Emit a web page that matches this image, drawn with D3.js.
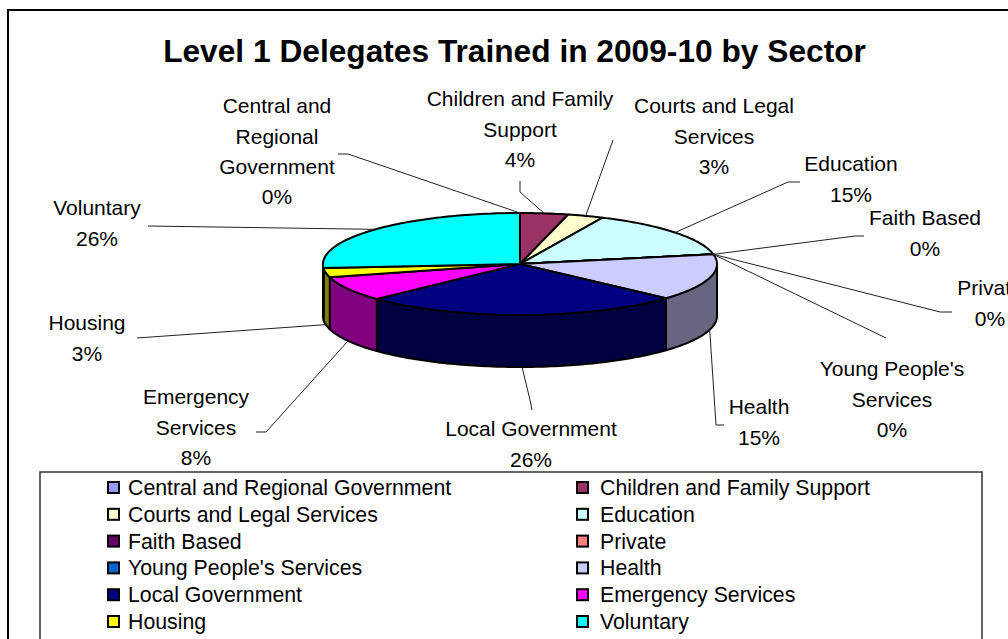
<!DOCTYPE html>
<html><head><meta charset="utf-8">
<script src="https://cdn.jsdelivr.net/npm/d3@7"></script>
<style>html,body{margin:0;padding:0;background:#fff;overflow:hidden}</style>
</head><body>
<svg id="chart" width="1008" height="639"></svg>
<script>
const title = "Level 1 Delegates Trained in 2009-10 by Sector";
const categories = ["Central and Regional Government","Children and Family Support","Courts and Legal Services","Education","Faith Based","Private","Young People's Services","Health","Local Government","Emergency Services","Housing","Voluntary"];
const values = [0, 12, 9, 46, 0, 0, 0, 45, 80, 24, 9, 80];
const colors = ["#9999FF","#993366","#FFFFCC","#CCFFFF","#660066","#FF8080","#0066CC","#CCCCFF","#000080","#FF00FF","#FFFF00","#00FFFF"];
const labelLines = [["Central and","Regional","Government"],["Children and Family","Support"],["Courts and Legal","Services"],["Education"],["Faith Based"],["Private"],["Young People's","Services"],["Health"],["Local Government"],["Emergency","Services"],["Housing"],["Voluntary"]];

// layout (positions of data labels and leader-line elbows)
const labelPos = [[277,106],[520,99],[714,106],[851,164],[925,218],[990,288],[892,369],[759,407],[531,429],[196,397],[87,323],[97,208]];
const leaderStart = [[[338,154],[348,154]],[[520,181],[520,192]],[[613,140]],[[800,182],[788,182]],[[864,236],[855,236]],[[952,312],[940,312]],[[886,338]],[[724,425],[716,425]],[[532,410],[530,400]],[[256,432],[266,432]],[[137,338]],[[148,226]]];

const svg = d3.select("#chart");
const font = "'Liberation Sans', Arial, sans-serif";

// outer border
svg.append("rect").attr("x",8).attr("y",10).attr("width",1010).attr("height",640)
  .attr("fill","none").attr("stroke","#000").attr("stroke-width",2);

svg.append("text").attr("x",514.5).attr("y",62).attr("text-anchor","middle")
  .attr("font-family",font).attr("font-weight","bold").attr("font-size",31.7).text(title);

// 3D pie
const cx = 520, cy = 264, rx = 197, ry = 51, depth = 52;
const px = t => cx + rx*Math.sin(t);
const py = (t,z) => cy - ry*Math.cos(t) + (z||0);
const pie = d3.pie().sort(null).value(d=>d).startAngle(0).endAngle(2*Math.PI);
const arcs = pie(values);
const total = d3.sum(values);
const fmt = v => Math.round(100*v/total) + "%";

function arcPts(a0,a1,z){
  const n = Math.max(2, Math.ceil(Math.abs(a1-a0)/0.02));
  return d3.range(n+1).map(i=>{const t=a0+(a1-a0)*i/n; return [px(t),py(t,z)];});
}
const line = d3.line();
const dark = c => {const k=d3.rgb(c); return d3.rgb(k.r*0.5,k.g*0.5,k.b*0.5).toString();};

// side walls (visible front half: angles PI/2..3PI/2)
const sideG = svg.append("g");
arcs.forEach((a,i)=>{
  const s = Math.max(a.startAngle, Math.PI/2), e = Math.min(a.endAngle, 3*Math.PI/2);
  if (e - s <= 1e-6) return;
  const top = arcPts(s,e,0), bot = arcPts(e,s,depth);
  sideG.append("path").attr("d", line(top.concat(bot))+"Z")
    .attr("fill", dark(colors[i])).attr("stroke","#000").attr("stroke-width",2).attr("stroke-linejoin","round");
});
// tops
const topG = svg.append("g");
arcs.forEach((a,i)=>{
  const pts = [[cx,cy]].concat(arcPts(a.startAngle,a.endAngle,0));
  topG.append("path").attr("d", line(pts)+"Z")
    .attr("fill", colors[i]).attr("stroke","#000").attr("stroke-width",2).attr("stroke-linejoin","round");
});

// labels and leader lines
const labG = svg.append("g").attr("font-family",font).attr("font-size",21).attr("fill","#000");
arcs.forEach((a,i)=>{
  const m = (a.startAngle+a.endAngle)/2;
  const front = Math.cos(m) < 0;
  const end = [px(m), py(m, front?depth:0)];
  const pts = leaderStart[i].concat([end]);
  labG.append("path").attr("d", line(pts)).attr("fill","none").attr("stroke","#222").attr("stroke-width",1);
  const [lx,ly] = labelPos[i];
  const lines = labelLines[i].concat([fmt(values[i])]);
  lines.forEach((t,j)=>{
    labG.append("text").attr("x",lx).attr("y",ly + j*30.3).attr("dy","0.35em")
      .attr("text-anchor","middle").text(t);
  });
});

// legend
svg.append("rect").attr("x",40).attr("y",472).attr("width",942).attr("height",200)
  .attr("fill","#fff").attr("stroke","#333").attr("stroke-width",1.5);
const legG = svg.append("g").attr("font-family",font).attr("font-size",21.3);
categories.forEach((c,i)=>{
  const col = i%2, row = Math.floor(i/2);
  const x = col ? 577 : 108, y = 487.5 + row*26.8;
  legG.append("rect").attr("x",x).attr("y",y-5.5).attr("width",11).attr("height",11)
    .attr("fill",colors[i]).attr("stroke","#000").attr("stroke-width",2);
  legG.append("text").attr("x", col ? 600 : 128).attr("y",y).attr("dy","0.35em").text(c);
});
</script>
</body></html>
